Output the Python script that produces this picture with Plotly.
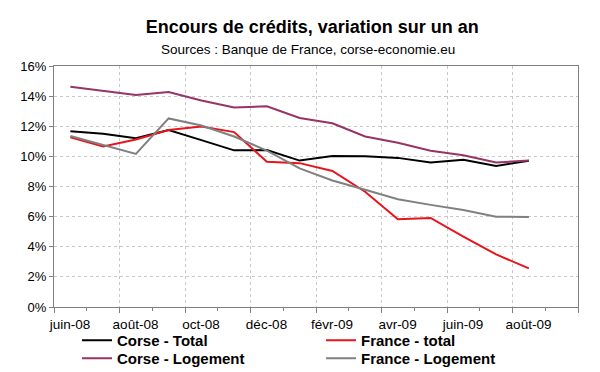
import plotly.graph_objects as go

# Monthly categories (the axis runs one month past the last data point)
months = ["juin-08", "juil-08", "août-08", "sept-08", "oct-08", "nov-08", "déc-08",
          "janv-09", "févr-09", "mars-09", "avr-09", "mai-09", "juin-09", "juil-09",
          "août-09", "sept-09"]
tick_labels = ["juin-08", "août-08", "oct-08", "déc-08", "févr-09", "avr-09", "juin-09", "août-09"]

corse_total = [11.66, 11.50, 11.20, 11.75, 11.08, 10.40, 10.42, 9.72, 10.02, 10.01, 9.90, 9.60, 9.78, 9.36, 9.71]
france_total = [11.27, 10.66, 11.12, 11.75, 11.98, 11.61, 9.64, 9.55, 9.03, 7.65, 5.83, 5.91, 4.67, 3.49, 2.56]
corse_logement = [14.63, 14.35, 14.08, 14.28, 13.71, 13.24, 13.33, 12.55, 12.20, 11.32, 10.90, 10.37, 10.07, 9.60, 9.72]
france_logement = [11.35, 10.78, 10.16, 12.52, 12.05, 11.32, 10.38, 9.20, 8.40, 7.78, 7.16, 6.78, 6.44, 6.00, 5.97]

series = [
    ("Corse - Total", corse_total, "#000000", "legend"),
    ("France - total", france_total, "#e8141b", "legend2"),
    ("Corse - Logement", corse_logement, "#993366", "legend3"),
    ("France - Logement", france_logement, "#808080", "legend4"),
]

# month index positions (slot centres) for data
pos = {m: i for i, m in enumerate(months)}

fig = go.Figure()
for name, vals, color, leg in series:
    xs = [pos[m] for m in months[:len(vals)]]
    fig.add_trace(go.Scatter(x=xs, y=vals, mode="lines", name=name,
                             line=dict(color=color, width=2), legend=leg))

font_family = "Liberation Sans, Arial, sans-serif"
boundaries = [pos[m] - 0.5 for m in tick_labels] + [len(months) - 0.5]

legend_common = dict(xanchor="left", yanchor="top",
                     orientation="v", itemwidth=30, tracegroupgap=0,
                     font=dict(size=15, family=font_family, weight="bold"),
                     bgcolor="rgba(0,0,0,0)", borderwidth=0)
col1_x = (69 - 46) / 524
col2_x = (313 - 46) / 524
row1_y = -(316 - 299) / 241
row2_y = -(334 - 299) / 241

fig.update_layout(
    width=600, height=372,
    margin=dict(l=46, r=30, t=58, b=73, autoexpand=False),
    paper_bgcolor="white", plot_bgcolor="white",
    font=dict(family=font_family, size=13, color="#000000"),
    title=dict(text="<b>Encours de crédits, variation sur un an</b>",
               x=0.507, xref="container", xanchor="center",
               y=1 - 19 / 372, yref="container", yanchor="middle",
               font=dict(size=18, family=font_family, color="#000000")),
    annotations=[dict(text="Sources : Banque de France, corse-economie.eu",
                      xref="paper", yref="paper", x=(300 - 46) / 524, y=1 + (58 - 41) / 241,
                      xanchor="center", yanchor="middle", showarrow=False,
                      font=dict(size=13.5, family=font_family, color="#000000"))],
    xaxis=dict(
        range=[-0.5, len(months) - 0.5],
        tickmode="array", tickvals=boundaries, ticktext=tick_labels + [""],
        ticklabelshift=16,
        ticks="outside", ticklen=5, tickcolor="#808080",
        showgrid=True, gridcolor="#c8c8c8", griddash="dot", gridwidth=1,
        showline=True, linecolor="#808080", linewidth=1, mirror=True,
        zeroline=False,
        minor=dict(tickmode="linear", tick0=-0.5, dtick=1, ticks="outside",
                   ticklen=3, tickcolor="#808080", showgrid=False),
        tickfont=dict(size=13.5),
    ),
    yaxis=dict(
        range=[0, 16], tickmode="linear", tick0=0, dtick=2, ticksuffix="%",
        ticks="outside", ticklen=4, tickcolor="#808080",
        showgrid=True, gridcolor="#c8c8c8", griddash="dot", gridwidth=1,
        showline=True, linecolor="#808080", linewidth=1, mirror=True,
        zeroline=False, tickfont=dict(size=13),
    ),
    legend=dict(x=col1_x, y=row1_y, **legend_common),
    legend2=dict(x=col2_x, y=row1_y, **legend_common),
    legend3=dict(x=col1_x, y=row2_y, **legend_common),
    legend4=dict(x=col2_x, y=row2_y, **legend_common),
    showlegend=True,
)

fig.write_html("out.html")
